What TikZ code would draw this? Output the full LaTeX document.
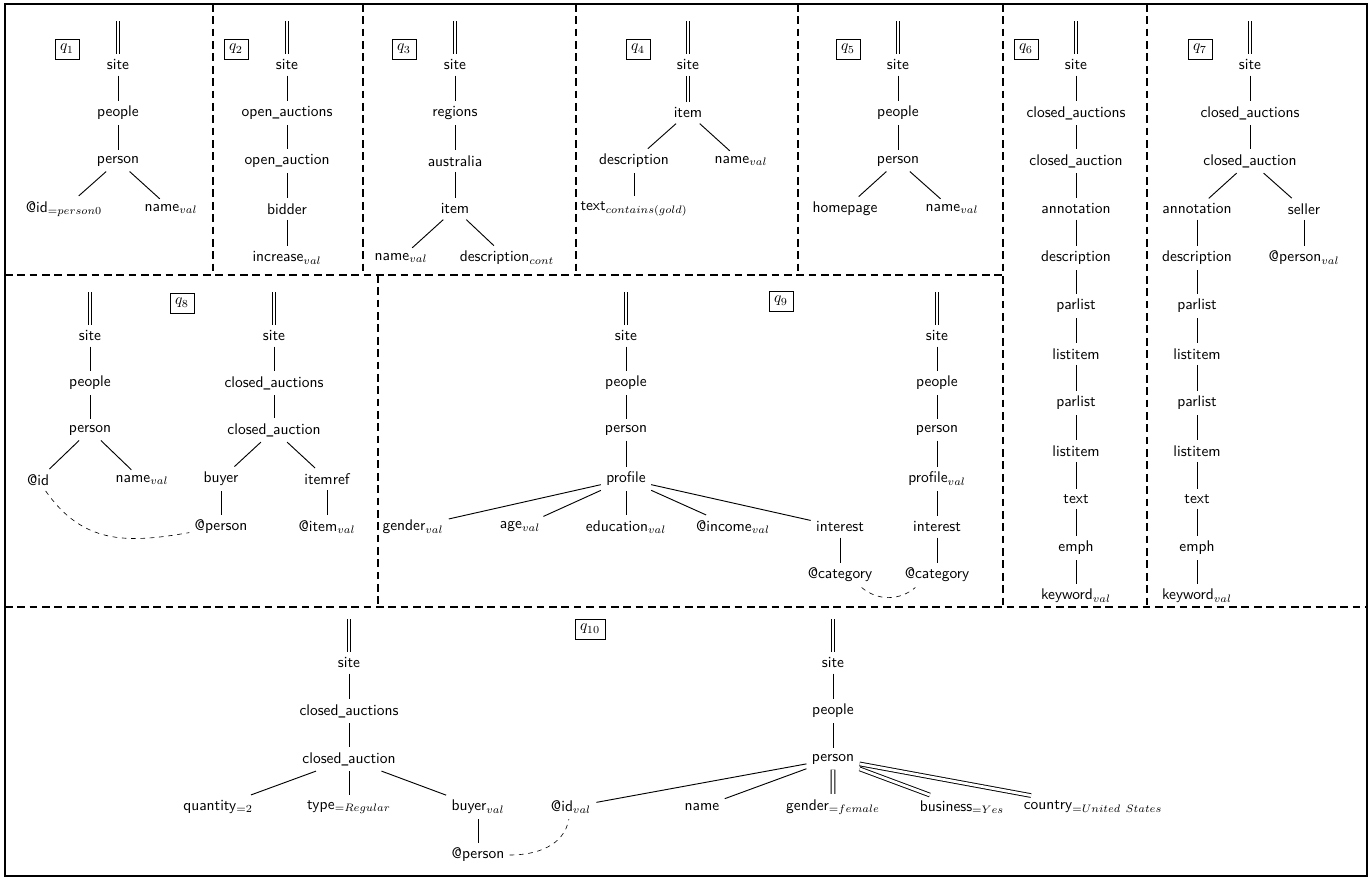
\documentclass[tikz,border=0pt]{standalone}
\usepackage{amsmath}
\usepackage{graphicx}
\newcommand{\usc}{\scalebox{.65}[1]{\_}}

\begin{document}
\begin{tikzpicture}[x=2.274mm, y=2.274mm,
  tn/.style={font=\sffamily},
  qlabel/.style={draw, thin},
  region/.style={line width=1.2pt, dash pattern=on 5pt off 3pt},
  treeline/.style={line width=0.6pt},
  dbl/.style={line width=0.6pt, double, double distance=1.8pt},
  link/.style={thin, dash pattern=on 3pt off 3pt}]

\useasboundingbox (0,0) rectangle (137.2,-88);
\draw [line width=1pt] (0.5,-0.4) rectangle (136.7,-87.6);

\draw [region] (0.5,-27.5) -- (100.3,-27.5);
\draw [region] (21.3,-0.4) -- (21.3,-27.5);
\draw [region] (36.3,-0.4) -- (36.3,-27.5);
\draw [region] (57.6,-0.4) -- (57.6,-27.5);
\draw [region] (79.8,-0.4) -- (79.8,-27.5);
\draw [region] (100.3,-0.4) -- (100.3,-60.7);
\draw [region] (114.7,-0.4) -- (114.7,-60.7);
\draw [region] (37.8,-27.5) -- (37.8,-60.7);
\draw [region] (0.5,-60.7) -- (136.7,-60.7);

\node [qlabel] (q1) at (6.7,-4.9) {$q_1$};
\coordinate (r1) at (11.8,-2.1);
\node [tn] (site1) at (11.8,-6.5) {site};
\node [tn] (people1) at (11.8,-11.3) {people};
\node [tn] (person1) at (11.8,-16.1) {person};
\node [tn] (id1) at (6.4,-20.9) {@id$_{=person0}$};
\node [tn] (name1) at (17.1,-20.9) {name$_{val}$};
\draw [dbl] (r1) -- (site1);
\draw [treeline] (site1) edge (people1) (people1) edge (person1) (person1) edge (id1) (person1) edge (name1);

\node [qlabel] (q2) at (23.6,-4.9) {$q_2$};
\coordinate (r2) at (28.7,-2.1);
\node [tn] (site2) at (28.7,-6.5) {site};
\node [tn] (oas2) at (28.7,-11.3) {open\usc auctions};
\node [tn] (oa2) at (28.7,-16.1) {open\usc auction};
\node [tn] (bidder2) at (28.7,-20.9) {bidder};
\node [tn] (increase2) at (28.7,-25.8) {increase$_{val}$};
\draw [dbl] (r2) -- (site2);
\draw [treeline] (site2) edge (oas2) (oas2) edge (oa2) (oa2) edge (bidder2) (bidder2) edge (increase2);

\node [qlabel] (q3) at (40.4,-4.9) {$q_3$};
\coordinate (r3) at (45.5,-2.1);
\node [tn] (site3) at (45.5,-6.5) {site};
\node [tn] (regions3) at (45.5,-11.3) {regions};
\node [tn] (australia3) at (45.5,-16.1) {australia};
\node [tn] (item3) at (45.5,-20.9) {item};
\node [tn] (name3) at (40.1,-25.8) {name$_{val}$};
\node [tn] (desc3) at (50.7,-25.8) {description$_{cont}$};
\draw [dbl] (r3) -- (site3);
\draw [treeline] (site3) edge (regions3) (regions3) edge (australia3) (australia3) edge (item3) (item3) edge (name3) (item3) edge (desc3);

\node [qlabel] (q4) at (63.8,-4.9) {$q_4$};
\coordinate (r4) at (68.8,-2.1);
\node [tn] (site4) at (68.8,-6.5) {site};
\node [tn] (item4) at (68.8,-11.3) {item};
\node [tn] (desc4) at (63.4,-16.1) {description};
\node [tn] (name4) at (74.1,-16.1) {name$_{val}$};
\node [tn] (text4) at (63.4,-20.9) {text$_{contains(gold)}$};
\draw [dbl] (r4) -- (site4) (site4) -- (item4);
\draw [treeline] (item4) edge (desc4) (item4) edge (name4) (desc4) edge (text4);

\node [qlabel] (q5) at (84.8,-4.9) {$q_5$};
\coordinate (r5) at (89.8,-2.1);
\node [tn] (site5) at (89.8,-6.5) {site};
\node [tn] (people5) at (89.8,-11.3) {people};
\node [tn] (person5) at (89.8,-16.1) {person};
\node [tn] (home5) at (84.5,-20.9) {homepage};
\node [tn] (name5) at (95.2,-20.9) {name$_{val}$};
\draw [dbl] (r5) -- (site5);
\draw [treeline] (site5) edge (people5) (people5) edge (person5) (person5) edge (home5) (person5) edge (name5);

\node [qlabel] (q6) at (102.6,-4.9) {$q_6$};
\coordinate (r6) at (107.6,-2.1);
\node [tn] (site6) at (107.6,-6.5) {site};
\node [tn] (cas6) at (107.6,-11.3) {closed\usc auctions};
\node [tn] (ca6) at (107.6,-16.1) {closed\usc auction};
\node [tn] (annot6) at (107.6,-20.9) {annotation};
\node [tn] (desc6) at (107.6,-25.8) {description};
\node [tn] (parlist6a) at (107.6,-30.6) {parlist};
\node [tn] (listitem6a) at (107.6,-35.4) {listitem};
\node [tn] (parlist6b) at (107.6,-40.3) {parlist};
\node [tn] (listitem6b) at (107.6,-45.1) {listitem};
\node [tn] (text6) at (107.6,-49.9) {text};
\node [tn] (emph6) at (107.6,-54.8) {emph};
\node [tn] (keyword6) at (107.6,-59.6) {keyword$_{val}$};
\draw [dbl] (r6) -- (site6);
\draw [treeline] (site6) edge (cas6) (cas6) edge (ca6) (ca6) edge (annot6) (annot6) edge (desc6) (desc6) edge (parlist6a) (parlist6a) edge (listitem6a) (listitem6a) edge (parlist6b) (parlist6b) edge (listitem6b) (listitem6b) edge (text6) (text6) edge (emph6) (emph6) edge (keyword6);

\node [qlabel] (q7) at (120.0,-4.9) {$q_7$};
\coordinate (r7) at (125.0,-2.1);
\node [tn] (site7) at (125.0,-6.5) {site};
\node [tn] (cas7) at (125.0,-11.3) {closed\usc auctions};
\node [tn] (ca7) at (125.0,-16.1) {closed\usc auction};
\node [tn] (annot7) at (119.7,-20.9) {annotation};
\node [tn] (seller7) at (130.4,-20.9) {seller};
\node [tn] (desc7) at (119.7,-25.8) {description};
\node [tn] (atperson7) at (130.4,-25.8) {@person$_{val}$};
\node [tn] (parlist7a) at (119.7,-30.6) {parlist};
\node [tn] (listitem7a) at (119.7,-35.4) {listitem};
\node [tn] (parlist7b) at (119.7,-40.3) {parlist};
\node [tn] (listitem7b) at (119.7,-45.1) {listitem};
\node [tn] (text7) at (119.7,-49.9) {text};
\node [tn] (emph7) at (119.7,-54.8) {emph};
\node [tn] (keyword7) at (119.7,-59.6) {keyword$_{val}$};
\draw [dbl] (r7) -- (site7);
\draw [treeline] (site7) edge (cas7) (cas7) edge (ca7) (ca7) edge (annot7) (ca7) edge (seller7) (seller7) edge (atperson7) (annot7) edge (desc7) (desc7) edge (parlist7a) (parlist7a) edge (listitem7a) (listitem7a) edge (parlist7b) (parlist7b) edge (listitem7b) (listitem7b) edge (text7) (text7) edge (emph7) (emph7) edge (keyword7);

\node [qlabel] (q8) at (18.2,-30.3) {$q_8$};
\coordinate (r8a) at (9.0,-29.2);
\node [tn] (site8a) at (9.0,-33.6) {site};
\node [tn] (people8) at (9.0,-38.3) {people};
\node [tn] (person8) at (9.0,-43.0) {person};
\node [tn] (id8) at (3.8,-48.0) {@id};
\node [tn] (name8) at (14.2,-48.0) {name$_{val}$};
\coordinate (r8b) at (27.4,-29.2);
\node [tn] (site8b) at (27.4,-33.6) {site};
\node [tn] (cas8) at (27.4,-38.3) {closed\usc auctions};
\node [tn] (ca8) at (27.4,-43.0) {closed\usc auction};
\node [tn] (buyer8) at (22.1,-47.9) {buyer};
\node [tn] (itemref8) at (32.7,-47.9) {itemref};
\node [tn] (atperson8) at (22.1,-52.7) {@person};
\node [tn] (atitem8) at (32.7,-52.7) {@item$_{val}$};
\draw [dbl] (r8a) -- (site8a) (r8b) -- (site8b);
\draw [treeline] (site8a) edge (people8) (people8) edge (person8) (person8) edge (id8) (person8) edge (name8);
\draw [treeline] (site8b) edge (cas8) (cas8) edge (ca8) (ca8) edge (buyer8) (ca8) edge (itemref8) (buyer8) edge (atperson8) (itemref8) edge (atitem8);
\draw [link] (id8) to[out=-55, in=190, looseness=1.1] (atperson8);

\node [qlabel] (q9) at (78.1,-30.1) {$q_9$};
\coordinate (r9a) at (62.6,-29.2);
\node [tn] (site9a) at (62.6,-33.6) {site};
\node [tn] (people9a) at (62.6,-38.3) {people};
\node [tn] (person9a) at (62.6,-43.0) {person};
\node [tn] (profile9a) at (62.6,-47.9) {profile};
\node [tn] (gender9) at (41.3,-52.7) {gender$_{val}$};
\node [tn] (age9) at (52.0,-52.7) {age$_{val}$};
\node [tn] (edu9) at (62.6,-52.7) {education$_{val}$};
\node [tn] (income9) at (73.3,-52.7) {@income$_{val}$};
\node [tn] (interest9a) at (84.0,-52.7) {interest};
\node [tn] (cat9a) at (84.0,-57.5) {@category};
\coordinate (r9b) at (93.7,-29.2);
\node [tn] (site9b) at (93.7,-33.6) {site};
\node [tn] (people9b) at (93.7,-38.3) {people};
\node [tn] (person9b) at (93.7,-43.0) {person};
\node [tn] (profile9b) at (93.7,-47.9) {profile$_{val}$};
\node [tn] (interest9b) at (93.7,-52.7) {interest};
\node [tn] (cat9b) at (93.7,-57.5) {@category};
\draw [dbl] (r9a) -- (site9a) (r9b) -- (site9b);
\draw [treeline] (site9a) edge (people9a) (people9a) edge (person9a) (person9a) edge (profile9a) (profile9a) edge (gender9) (profile9a) edge (age9) (profile9a) edge (edu9) (profile9a) edge (income9) (profile9a) edge (interest9a) (interest9a) edge (cat9a);
\draw [treeline] (site9b) edge (people9b) (people9b) edge (person9b) (person9b) edge (profile9b) (profile9b) edge (interest9b) (interest9b) edge (cat9b);
\draw [link] (cat9a.-30) to[out=-40, in=-140] (cat9b.-150);

\node [qlabel] (q10) at (59.0,-62.9) {$q_{10}$};
\coordinate (r10a) at (34.9,-61.9);
\node [tn] (site10a) at (34.9,-66.3) {site};
\node [tn] (cas10) at (34.9,-71.1) {closed\usc auctions};
\node [tn] (ca10) at (34.9,-75.9) {closed\usc auction};
\node [tn] (quantity10) at (21.8,-80.7) {quantity$_{=2}$};
\node [tn] (type10) at (34.9,-80.7) {type$_{=Regular}$};
\node [tn] (buyer10) at (47.8,-80.7) {buyer$_{val}$};
\node [tn] (atperson10) at (47.8,-85.5) {@person};
\coordinate (r10b) at (83.3,-61.9);
\node [tn] (site10b) at (83.3,-66.3) {site};
\node [tn] (people10) at (83.3,-71.1) {people};
\node [tn] (person10) at (83.3,-75.9) {person};
\node [tn] (id10) at (57.1,-80.7) {@id$_{val}$};
\node [tn] (name10) at (70.2,-80.7) {name};
\node [tn] (gender10) at (83.3,-80.7) {gender$_{=female}$};
\node [tn] (business10) at (96.2,-80.7) {business$_{=Yes}$};
\node [tn] (country10) at (109.3,-80.7) {country$_{=United\ States}$};
\draw [dbl] (r10a) -- (site10a) (r10b) -- (site10b);
\draw [treeline] (site10a) edge (cas10) (cas10) edge (ca10) (ca10) edge (quantity10) (ca10) edge (type10) (ca10) edge (buyer10) (buyer10) edge (atperson10);
\draw [treeline] (site10b) edge (people10) (people10) edge (person10) (person10) edge (id10) (person10) edge (name10);
\draw [dbl] (person10) -- (gender10) (person10) -- (business10) (person10) -- (country10);
\draw [link] (atperson10) to[out=0, in=-100] (id10);

\end{tikzpicture}
\end{document}
